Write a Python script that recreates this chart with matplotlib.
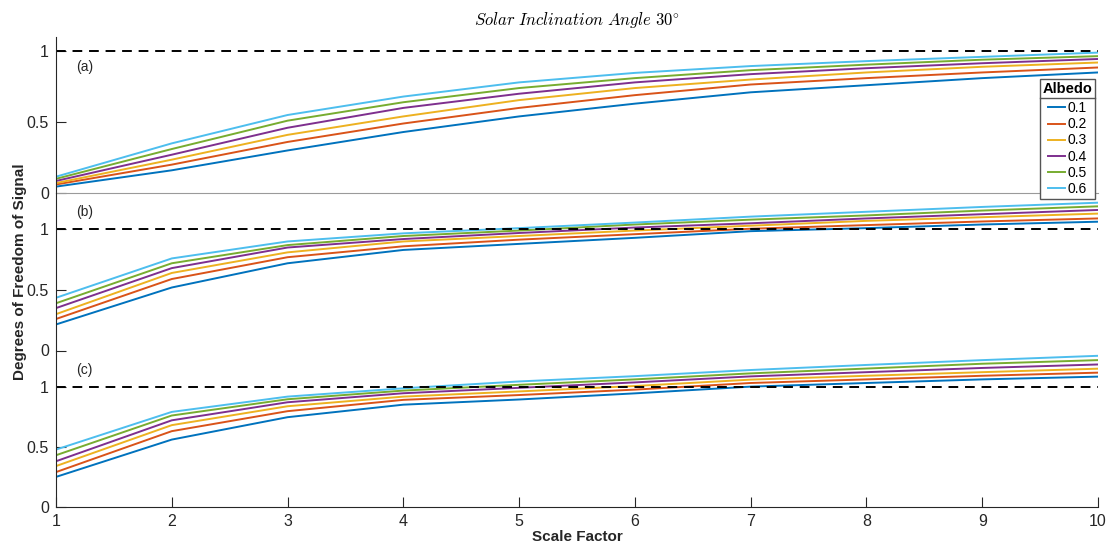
import numpy as np
import matplotlib
matplotlib.use("Agg")
import matplotlib.pyplot as plt
from matplotlib.lines import Line2D

plt.rcParams['font.family'] = ['Liberation Sans', 'DejaVu Sans']
plt.rcParams['mathtext.fontset'] = 'cm'

scale = [1, 2, 3, 4, 5, 6, 7, 8, 9, 10]
albedo = ['0.1', '0.2', '0.3', '0.4', '0.5', '0.6']
colors = ['#0072BD', '#D95319', '#EDB120', '#7E2F8E', '#77AC30', '#4DBEEE']

## degrees of freedom, one row per albedo
dof_a = [
    [0.045, 0.16, 0.30, 0.43, 0.54, 0.63, 0.71, 0.76, 0.81, 0.85],
    [0.06, 0.20, 0.36, 0.49, 0.60, 0.69, 0.765, 0.81, 0.85, 0.885],
    [0.07, 0.235, 0.41, 0.54, 0.655, 0.74, 0.80, 0.85, 0.89, 0.92],
    [0.085, 0.27, 0.46, 0.60, 0.70, 0.78, 0.838, 0.88, 0.915, 0.945],
    [0.10, 0.31, 0.51, 0.64, 0.74, 0.81, 0.866, 0.905, 0.94, 0.965],
    [0.115, 0.35, 0.55, 0.68, 0.78, 0.847, 0.895, 0.93, 0.96, 0.99],
]
dof_b = [
    [0.215, 0.52, 0.72, 0.83, 0.88, 0.93, 0.985, 1.01, 1.04, 1.063],
    [0.26, 0.59, 0.77, 0.86, 0.915, 0.96, 1.005, 1.035, 1.065, 1.09],
    [0.30, 0.64, 0.81, 0.90, 0.945, 0.99, 1.03, 1.07, 1.10, 1.13],
    [0.35, 0.68, 0.85, 0.92, 0.97, 1.015, 1.05, 1.09, 1.125, 1.16],
    [0.39, 0.72, 0.87, 0.945, 0.99, 1.04, 1.08, 1.115, 1.155, 1.19],
    [0.435, 0.76, 0.90, 0.967, 1.01, 1.056, 1.105, 1.145, 1.185, 1.22],
]
dof_c = [
    [0.25, 0.56, 0.746, 0.85, 0.893, 0.944, 1.0, 1.03, 1.06, 1.083],
    [0.29, 0.63, 0.796, 0.89, 0.93, 0.975, 1.03, 1.06, 1.09, 1.116],
    [0.34, 0.68, 0.837, 0.917, 0.96, 1.005, 1.058, 1.09, 1.12, 1.149],
    [0.38, 0.72, 0.87, 0.945, 0.99, 1.035, 1.085, 1.12, 1.155, 1.184],
    [0.43, 0.76, 0.895, 0.967, 1.015, 1.06, 1.11, 1.15, 1.19, 1.22],
    [0.477, 0.79, 0.917, 0.986, 1.043, 1.087, 1.138, 1.18, 1.22, 1.256],
]
panel_labels = ['(a)', '(b)', '(c)']
ylims = [1.1, 1.3, 1.3]

dark = '#262626'

fig = plt.figure(figsize=(11.07, 5.47), dpi=100)
left, width = 56 / 1107, 1042 / 1107
boxes = [(193, 37), (350.5, 193), (507, 350.5)]   # bottom, top in pixels

axes = []
for k, data in enumerate([dof_a, dof_b, dof_c]):
    bot, top = boxes[k]
    ax = fig.add_axes([left, 1 - bot / 547, width, (bot - top) / 547])
    ax.patch.set_alpha(0)
    for i in range(len(albedo)):
        ax.plot(scale, data[i], color=colors[i], lw=1.4, label=albedo[i])
    ax.plot([1, 10], [1, 1], color='black', lw=1.4, dashes=(5, 3.5))
    ax.set_xlim(1, 10)
    ax.set_ylim(0, ylims[k])
    ax.set_yticks([0, 0.5, 1])
    ax.set_yticklabels(['0', '0.5', '1'])
    ax.text(1.17, ylims[k] - 0.16 if k else 0.89, panel_labels[k], fontsize=10,
            color=dark, va='center', ha='left')
    ax.tick_params(axis='y', direction='in', length=7, width=0.8, colors=dark,
                   labelsize=11.5, pad=5)
    ax.spines['top'].set_visible(False)
    ax.spines['right'].set_visible(False)
    ax.spines['left'].set_color(dark)
    if k == 2:
        ax.set_xticks(scale)
        ax.tick_params(axis='x', direction='in', length=7, width=0.8, colors=dark,
                       labelsize=11.5, pad=5)
        ax.spines['bottom'].set_color(dark)
        ax.set_xlabel('Scale Factor', fontsize=11, fontweight='bold', color=dark,
                      labelpad=1)
    else:
        ax.set_xticks([])
        if k == 0:
            ax.spines['bottom'].set_color('#9a9a9a')
        else:
            ax.spines['bottom'].set_visible(False)
    axes.append(ax)

axes[0].set_title(r'$Solar\ Inclination\ Angle\ \mathrm{30}^{\circ}$', fontsize=12,
                  pad=9)
fig.text(20 / 1107, 1 - 272 / 547, 'Degrees of Freedom of Signal', rotation=90,
         fontsize=11, fontweight='bold', color=dark, ha='center', va='center')

handles, labels = axes[0].get_legend_handles_labels()
leg = fig.legend(handles, labels, title='Albedo', loc='upper right',
                 bbox_to_anchor=(1095 / 1107, 1 - 79 / 547), fontsize=10,
                 handlelength=1.25, handletextpad=0.15, labelspacing=0.15,
                 borderpad=0.2, borderaxespad=0, fancybox=False, framealpha=1,
                 edgecolor='#555555')
leg.get_title().set_fontweight('bold')
leg.get_title().set_fontsize(10.5)
leg.get_frame().set_linewidth(1.0)
leg._legend_box.sep = 4   # a bit of room under the title

# separator line under the legend title
fig.canvas.draw()
tb = leg.get_title().get_window_extent()
fb = leg.get_frame().get_window_extent()
y_sep = (tb.y0 - 2) / fig.bbox.height
fig.add_artist(Line2D([fb.x0 / fig.bbox.width, fb.x1 / fig.bbox.width], [y_sep, y_sep],
                      color='#555555', lw=1.0, zorder=10))

fig.savefig('out.png', dpi=100)
